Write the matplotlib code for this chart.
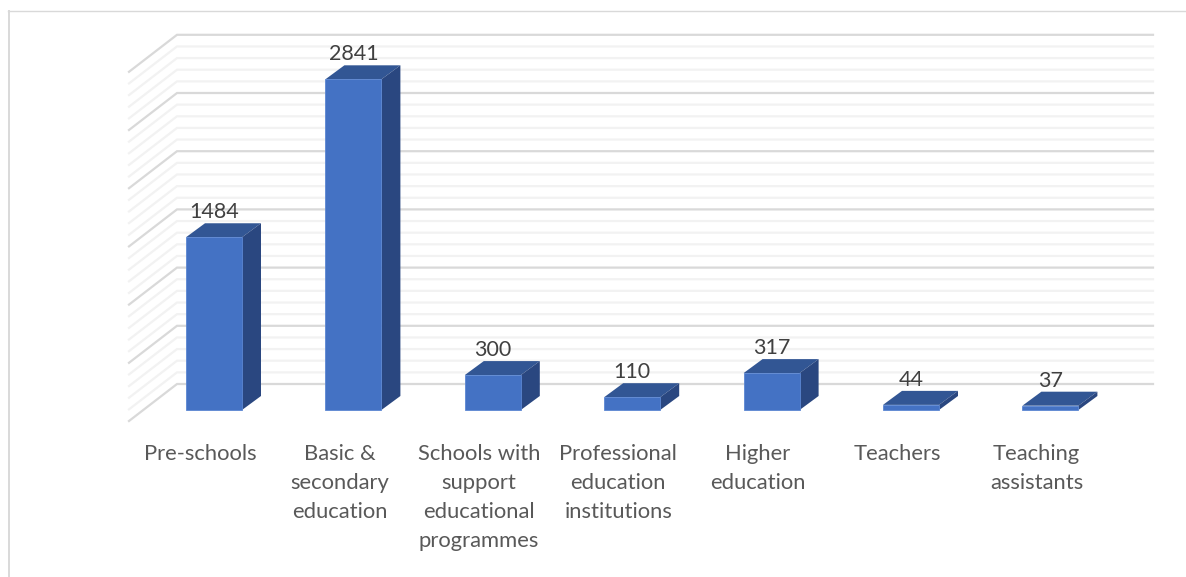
import numpy as np
import matplotlib
matplotlib.use("Agg")
import matplotlib.pyplot as plt
from matplotlib.patches import Polygon

categories = ["Pre-schools", "Basic &\nsecondary\neducation",
              "Schools with\nsupport\neducational\nprogrammes",
              "Professional\neducation\ninstitutions", "Higher\neducation",
              "Teachers", "Teaching\nassistants"]
values = [1484, 2841, 300, 110, 317, 44, 37]
major_ticks = [0, 500, 1000, 1500, 2000, 2500, 3000]
minor_ticks = [v for v in range(0, 3001, 100) if v % 500 != 0]

W, H = 1186, 577
PX_CAT = 139.4    # px por categoria
PX_VAL = 0.1164   # px por unidad
X0, Y0 = 214.0, 410.0  # centro de la primera barra, base frontal


def dx(px):
    return px / PX_CAT


def dy(px):
    return px / PX_VAL


plt.rcParams["font.family"] = ["Lato", "DejaVu Sans"]
fig = plt.figure(figsize=(W / 100, H / 100), dpi=100)
ax = fig.add_axes([0, 0, 1, 1])
ax.set_xlim(-X0 / PX_CAT, (W - X0) / PX_CAT)
ax.set_ylim((Y0 - H) / PX_VAL, Y0 / PX_VAL)
ax.axis("off")

# marco del grafico
ax.plot([dx(9 - X0), dx(9 - X0)], [dy(Y0 - H), dy(Y0 - 11.5)], color="#d9d9d9", lw=1.4)
ax.plot([dx(8 - X0), dx(W - X0)], [dy(Y0 - 11.5), dy(Y0 - 11.5)], color="#d9d9d9", lw=1)

# rejilla: pared lateral y pared trasera
wall_l, wall_r, side_l = dx(177 - X0), dx(1153 - X0), dx(129 - X0)
back, side = dy(26), dy(-11)
for ticks, col, lw in [(minor_ticks, "#f2f2f2", 1.6), (major_ticks, "#d9d9d9", 1.6)]:
    for v in ticks:
        ax.plot([side_l, wall_l, wall_r], [v + side, v + back, v + back],
                color=col, lw=lw, solid_joinstyle="miter", zorder=1)

# barras 3D
bar_w, depth_x, depth_y = 56 / PX_CAT, dx(19), dy(14)
for i, v in enumerate(values):
    l, r = i - bar_w / 2, i + bar_w / 2
    ax.add_patch(Polygon([(l, v), (l + depth_x, v + depth_y), (r + depth_x, v + depth_y), (r, v)],
                         fc="#325694", ec="none", zorder=3))
    ax.add_patch(Polygon([(r, 0), (r + depth_x, depth_y), (r + depth_x, v + depth_y), (r, v)],
                         fc="#2a4780", ec="none", zorder=3))
    ax.add_patch(Polygon([(l, 0), (r, 0), (r, v), (l, v)], fc="#4472c4", ec="#5b86d2", lw=0.6, zorder=4))
    ax.text(i, v + depth_y + dy(1), str(v), ha="center", va="bottom",
            fontsize=15.5, color="#404040", zorder=5)
    ax.text(i - dx(14), dy(Y0 - 443.5), categories[i], ha="center", va="top",
            fontsize=15.8, color="#595959", linespacing=1.58, zorder=5)

fig.savefig("out.png", dpi=100)
